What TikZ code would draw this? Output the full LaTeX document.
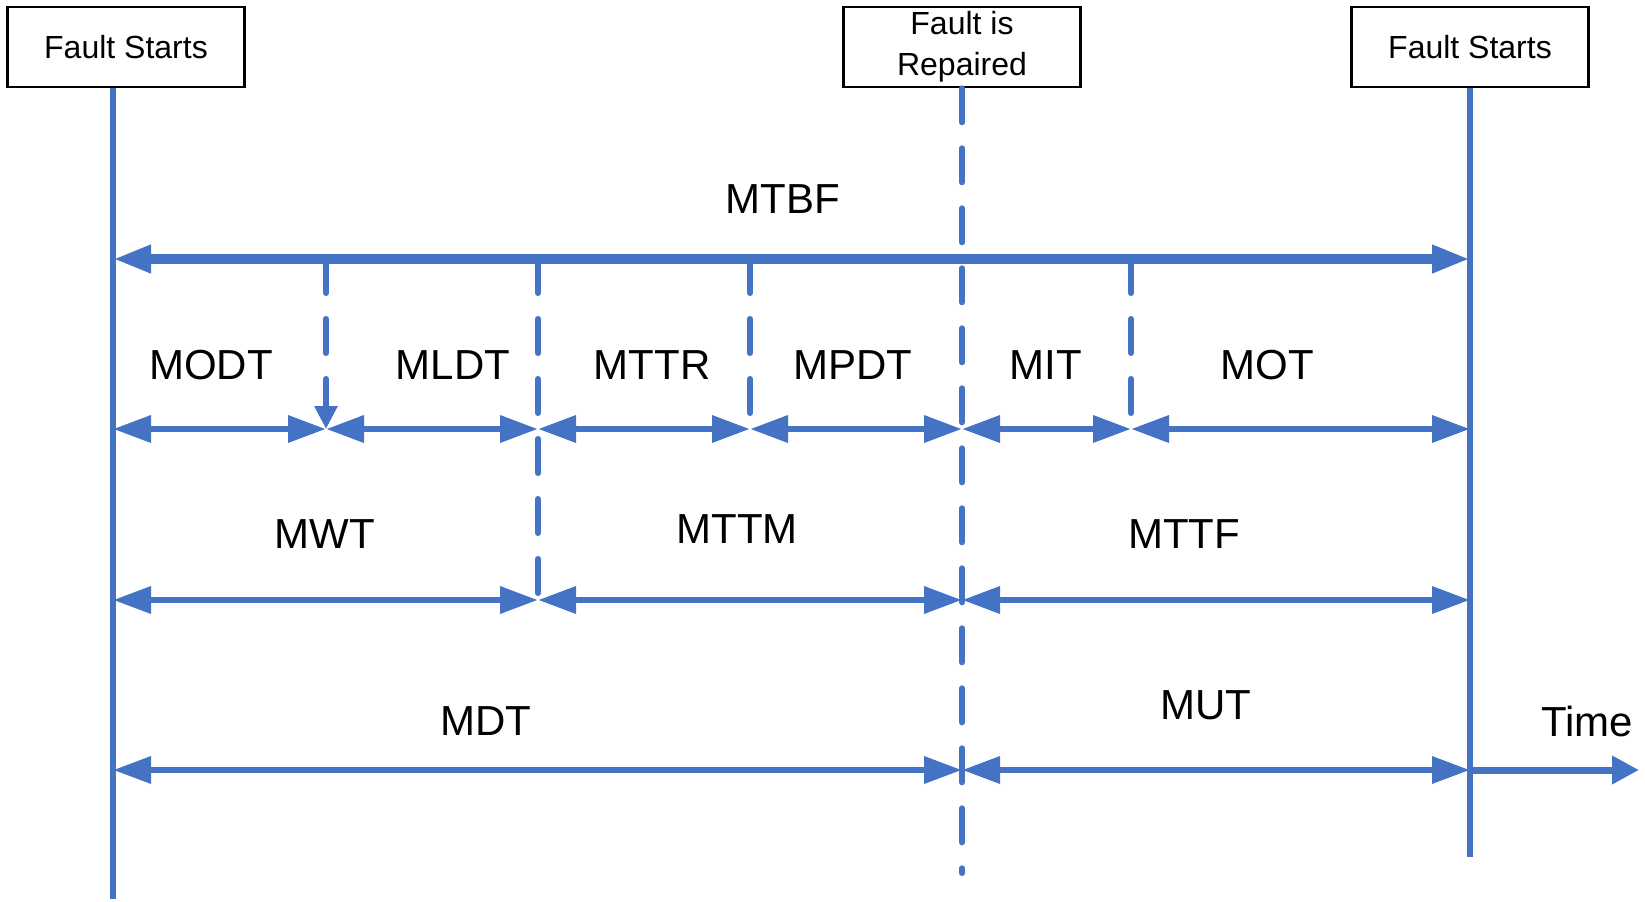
\documentclass[tikz,border=0pt]{standalone}
\usepackage{fontspec}
\setmainfont{Liberation Sans}
\usetikzlibrary{arrows.meta}

\definecolor{lineblue}{RGB}{68,114,196}

\tikzstyle{eventbox}=[
    draw,
    line width=1.3pt,
    minimum width=118.5pt,
    minimum height=40pt,
    inner sep=0pt,
    align=center,
    font=\fontsize{16}{20.5}\selectfont,
  ]
\tikzstyle{timeline}=[
    lineblue,
    line width=3pt,
  ]
\tikzstyle{marker}=[
    lineblue,
    line width=3pt,
    line cap=round,
    dash pattern=on 17pt off 13pt,
  ]
\tikzstyle{span}=[
    {Triangle[length=19pt,width=13pt]}-{Triangle[length=19pt,width=13pt]},
    lineblue,
    line width=3.3pt,
  ]
\tikzstyle{spanlabel}=[
    font=\fontsize{21}{25}\selectfont,
    inner sep=0pt,
  ]

\begin{document}
\begin{tikzpicture}[x=0.5pt, y=-0.5pt]
  \useasboundingbox (0,0) rectangle (1645,901);

  % events on the time axis
  \node[eventbox] (start) at (126,47) {Fault Starts};
  \node[eventbox] (repair) at (962,47) {Fault is\\Repaired};
  \node[eventbox] (next) at (1470,47) {Fault Starts};

  \coordinate (startend) at (113,899);
  \coordinate (repairend) at (962,873);
  \coordinate (nextend) at (1470,857);
  \draw[timeline] (start.south -| startend) -- (startend);
  \draw[timeline] (next.south) -- (nextend);
  \draw[marker] (repair.south) -- (repairend);

  % span end points
  \coordinate (m0) at (113,259);
  \coordinate (m6) at (1470,259);
  \foreach \i/\x in {0/113, 1/326, 2/538, 3/750, 4/962, 5/1131, 6/1470} {%
    \coordinate (p\i) at (\x,429);
  }
  \foreach \i/\x in {0/113, 2/538, 4/962, 6/1470} {%
    \coordinate (w\i) at (\x,600);
  }
  \coordinate (d0) at (113,770);
  \coordinate (d4) at (962,770);
  \coordinate (d6) at (1470,770);
  \coordinate (time) at (1639,770);

  % dashed dividers
  \draw[marker, -{Triangle[length=11.5pt,width=11pt]}] (p1 |- m0) -- (p1);
  \draw[marker] (p2 |- m0) -- (w2);
  \draw[marker] (p3 |- m0) -- (p3);
  \draw[marker] (p5 |- m0) -- (p5);

  % spans
  \draw[span, line width=4.8pt] (m0) -- (m6);
  \foreach \a/\b in {0/1, 1/2, 2/3, 3/4, 4/5, 5/6} {%
    \draw[span] (p\a) -- (p\b);
  }
  \draw[span] (w0) -- (w2);
  \draw[span] (w2) -- (w4);
  \draw[span] (w4) -- (w6);
  \draw[span] (d0) -- (d4);
  \draw[span] (d4) -- (d6);
  \draw[lineblue, line width=3.5pt, -{Triangle[length=13.5pt,width=13.5pt]}] (d6) -- (time);

  % labels
  \node[spanlabel] (mtbf) at (783,199) {MTBF};
  \node[spanlabel] (modt) at (211,365) {MODT};
  \node[spanlabel] (mldt) at (453,365) {MLDT};
  \node[spanlabel] (mttr) at (652,365) {MTTR};
  \node[spanlabel] (mpdt) at (853,365) {MPDT};
  \node[spanlabel] (mit) at (1046,365) {MIT};
  \node[spanlabel] (mot) at (1267,365) {MOT};
  \node[spanlabel] (mwt) at (325,534) {MWT};
  \node[spanlabel] (mttm) at (737,529) {MTTM};
  \node[spanlabel] (mttf) at (1184,534) {MTTF};
  \node[spanlabel] (mdt) at (486,721) {MDT};
  \node[spanlabel] (mut) at (1206,705) {MUT};
  \node[spanlabel] (timelbl) at (1587,721) {Time};
\end{tikzpicture}
\end{document}
